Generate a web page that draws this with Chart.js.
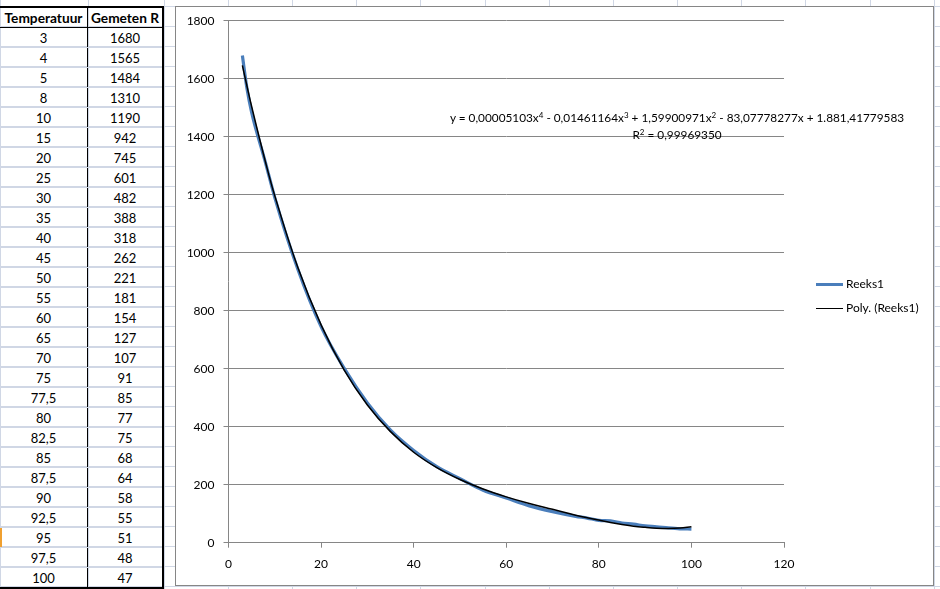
<!DOCTYPE html>
<html>
<head>
<meta charset="utf-8">
<script src="https://cdn.jsdelivr.net/npm/chart.js@4"></script>
<style>
  html, body { margin: 0; padding: 0; }
  body {
    width: 940px; height: 589px; overflow: hidden; position: relative;
    background-color: #fff;
    background-image:
      linear-gradient(to bottom, #d0d7e5 1px, transparent 1px);
    background-size: 100% 20px;
    background-position: 0 6px;
    font-family: Lato, "Open Sans", sans-serif;
  }
  .kolom { position: absolute; top: 0; width: 1px; height: 589px; background: #d0d7e5; }
  #tabel {
    position: absolute; left: 0; top: 6px;
    border-collapse: collapse;
    border-top: 2px solid #000; border-right: 2px solid #000; border-bottom: 2px solid #000;
    font-size: 13px; color: #000;
  }
  #tabel td, #tabel th { height: 19px; padding: 0; text-align: center; border-bottom: 1px solid #d0d7e5; }
  #tabel th { font-weight: bold; font-size: 13.7px; border-bottom: 1px solid #000; white-space: nowrap; }
  #tabel td:first-child, #tabel th:first-child { width: 87px; border-right: 1px solid #000; }
  #tabel td:last-child, #tabel th:last-child { width: 74px; }
  #grafiek {
    position: absolute; left: 175px; top: 6px; width: 759px; height: 580px;
    box-sizing: border-box; border: 1px solid #868686; background: #fff;
  }
  #grafiek canvas { position: absolute; left: 0; top: 0; }
  .vergelijking {
    position: absolute; left: 201px; width: 600px; text-align: center;
    font-size: 11.8px; color: #000; white-space: nowrap; line-height: 14px;
  }
  .vergelijking sup { font-size: 8px; vertical-align: 4px; line-height: 0; }
  .legenda { position: absolute; left: 640px; font-size: 12px; color: #000; line-height: 14px; }
  .legenda span { display: inline-block; width: 27px; vertical-align: middle; margin-right: 3px; }
</style>
</head>
<body>
<div id="kolommen"></div>
<table id="tabel"><thead></thead><tbody></tbody></table>
<div id="grafiek">
  <canvas id="myChart-poly" width="757" height="578"></canvas>
  <div class="vergelijking" style="top: 104px;">y = 0,00005103x<sup>4</sup> - 0,01461164x<sup>3</sup> + 1,59900971x<sup>2</sup> - 83,07778277x + 1.881,41779583</div>
  <div class="vergelijking" style="top: 121px;">R<sup>2</sup> = 0,99969350</div>
  <div class="legenda" style="top: 270px;"><span style="border-top: 3px solid #4a7ebb;"></span>Reeks1</div>
  <div class="legenda" style="top: 294px;"><span style="border-top: 1px solid #000;"></span>Poly. (Reeks1)</div>
</div>

<script>
const kopjes = ['Temperatuur', 'Gemeten R'];
const temperaturen = [3, 4, 5, 8, 10, 15, 20, 25, 30, 35, 40, 45, 50, 55, 60, 65, 70, 75, 77.5, 80, 82.5, 85, 87.5, 90, 92.5, 95, 97.5, 100];
const gemetenR = [1680, 1565, 1484, 1310, 1190, 942, 745, 601, 482, 388, 318, 262, 221, 181, 154, 127, 107, 91, 85, 77, 75, 68, 64, 58, 55, 51, 48, 47];
const polyWaarden = [1646, 1574, 1504, 1312, 1196, 948, 751, 595, 475, 383, 312, 259, 218, 185, 158, 135, 115, 95, 86, 78, 70, 63, 57, 53, 50, 49, 50.5, 55];
const xTicks = [0, 20, 40, 60, 80, 100, 120];
const yTicks = [0, 200, 400, 600, 800, 1000, 1200, 1400, 1600, 1800];
const reeksNamen = ['Reeks1', 'Poly. (Reeks1)'];

document.addEventListener("DOMContentLoaded", () => {
    tekenKolommen();
    vulTabel();
    tekenGrafiek();
});

function tekenKolommen() {
    const div = document.getElementById("kolommen");
    [0, 88, 164].concat(Array.from({ length: 12 }, (_, i) => 228 + i * 64.15)).forEach(x => {
        const k = document.createElement("div");
        k.className = "kolom";
        k.style.left = Math.round(x) + "px";
        div.appendChild(k);
    });
    const oranje = document.createElement("div");
    oranje.style.cssText = "position:absolute;left:0;top:527px;width:2px;height:20px;background:#f0a030;";
    div.appendChild(oranje);
}

function vulTabel() {
    const thead = document.querySelector("#tabel thead");
    thead.innerHTML = `<tr><th>${kopjes[0]}</th><th>${kopjes[1]}</th></tr>`;
    const tbody = document.querySelector("#tabel tbody");
    temperaturen.forEach((t, i) => {
        const tr = document.createElement("tr");
        tr.innerHTML = `<td>${String(t).replace('.', ',')}</td><td>${gemetenR[i]}</td>`;
        tbody.appendChild(tr);
    });
}

function tekenGrafiek() {
    const ctx = document.getElementById('myChart-poly').getContext('2d');
    const grijs = '#868686';
    window.grafiek = new Chart(ctx, {
        type: 'line',
        data: {
            datasets: [{
                label: reeksNamen[1],
                data: temperaturen.map((t, i) => ({ x: t, y: polyWaarden[i] })),
                borderColor: '#000',
                borderWidth: 1.5,
                pointRadius: 0,
                tension: 0.4,
                order: 0
            }, {
                label: reeksNamen[0],
                data: temperaturen.map((t, i) => ({ x: t, y: gemetenR[i] })),
                borderColor: '#4a7ebb',
                borderWidth: 3.2,
                pointRadius: 0,
                cubicInterpolationMode: 'monotone',
                order: 1
            }]
        },
        options: {
            responsive: false,
            animation: false,
            layout: { padding: { top: 13.7, right: 149, bottom: 0, left: 0 } },
            plugins: { legend: { display: false }, tooltip: { enabled: false } },
            scales: {
                x: {
                    type: 'linear', min: 0, max: 120,
                    afterBuildTicks: scale => { scale.ticks = xTicks.map(v => ({ value: v })); },
                    afterFit: scale => { scale.height = 42.3; scale.paddingLeft = 0; scale.paddingRight = 0; },
                    grid: { drawOnChartArea: false, drawTicks: true, tickLength: 5, color: grijs },
                    border: { color: grijs },
                    ticks: { padding: 9, color: '#000', font: { family: 'Lato', size: 12 }, callback: v => String(v) }
                },
                y: {
                    min: 0, max: 1800,
                    afterBuildTicks: scale => { scale.ticks = yTicks.map(v => ({ value: v })); },
                    afterFit: scale => { scale.width = 52.5; scale.paddingTop = 0; scale.paddingBottom = 0; },
                    grid: { color: grijs, tickLength: 5 },
                    border: { color: grijs },
                    ticks: { padding: 9, color: '#000', font: { family: 'Lato', size: 12 }, callback: v => String(v) }
                }
            }
        }
    });
}
</script>
</body>
</html>
